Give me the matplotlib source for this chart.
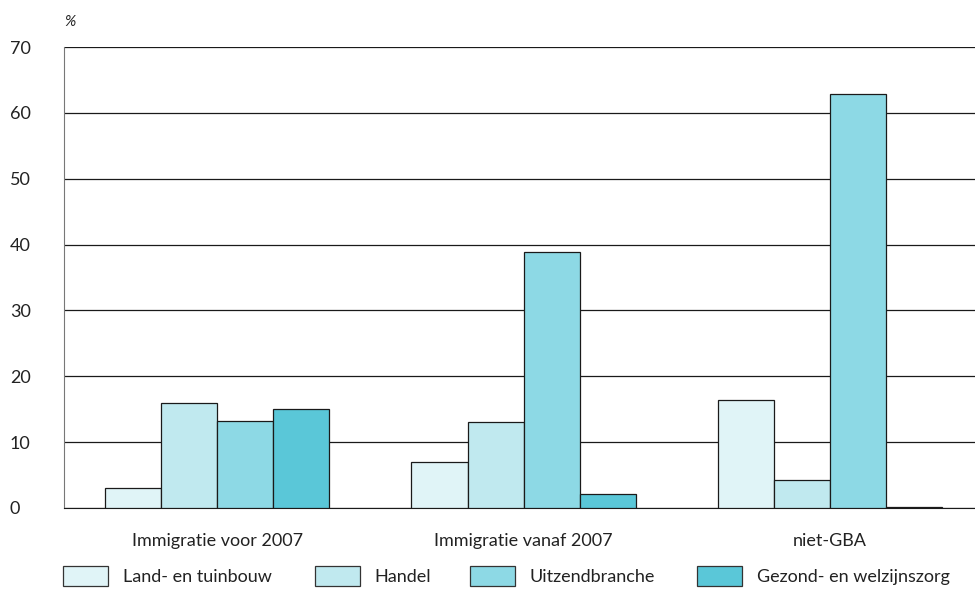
import numpy as np
import matplotlib.pyplot as plt
from matplotlib.patches import Patch

plt.rcParams['font.family'] = ['Lato', 'DejaVu Sans']

# ---- data ----
groups = ['Immigratie voor 2007', 'Immigratie vanaf 2007', 'niet-GBA']
sectors = ['Land- en tuinbouw', 'Handel', 'Uitzendbranche', 'Gezond- en welzijnszorg']
land_tuinbouw = [3.0, 7.0, 16.4]
handel = [15.9, 13.1, 4.2]
uitzendbranche = [13.2, 38.8, 62.8]
zorg = [15.1, 2.2, 0.2]
yticks = [0, 10, 20, 30, 40, 50, 60, 70]

series = [land_tuinbouw, handel, uitzendbranche, zorg]
colors = ['#e0f4f7', '#c0e9ef', '#8dd9e5', '#5ac7d8']
txt = '#222222'
fs = 13

fig = plt.figure(figsize=(9.75, 5.91), dpi=100)
ax = fig.add_axes([64 / 975, 1 - 508 / 591, 1 - 64 / 975, (508 - 47) / 591])

x = np.arange(len(groups))
w = 0.183
for i, (vals, c) in enumerate(zip(series, colors)):
    ax.bar(x + (i - 1.5) * w, vals, width=w, color=c, edgecolor='#1a1a1a',
           linewidth=0.9, zorder=3)

ax.set_xlim(-0.5, 2.473)
ax.set_ylim(0, 70)
ax.set_yticks(yticks)
ax.yaxis.grid(True, color='#1a1a1a', linewidth=0.9, zorder=0)
ax.set_axisbelow(True)

for side in ['top', 'right']:
    ax.spines[side].set_visible(False)
ax.spines['left'].set_color('#777777')
ax.spines['bottom'].set_color('#1a1a1a')

ax.set_xticks(x)
ax.set_xticklabels(groups, fontsize=fs, color=txt)
ax.tick_params(axis='x', length=0, pad=18)
ax.tick_params(axis='y', length=0, pad=39, labelsize=fs, labelcolor=txt)
for lab in ax.get_yticklabels():
    lab.set_horizontalalignment('left')

ax.text(0.0, 1.04, '%', transform=ax.transAxes, fontsize=11, color=txt,
        style='italic', ha='left', va='bottom')

# one legend per entry, placed along the bottom
legend_x = [63, 315, 470, 697]
for name, c, lx in zip(sectors, colors, legend_x):
    h = Patch(facecolor=c, edgecolor='#333333', linewidth=0.9)
    fig.legend([h], [name], loc='center left',
               bbox_to_anchor=(lx / 975, 1 - 576 / 591), frameon=False,
               fontsize=fs, handlelength=2.5, handleheight=1.28,
               handletextpad=0.8, borderpad=0, borderaxespad=0,
               labelcolor=txt)

fig.savefig('out.png', dpi=100)
